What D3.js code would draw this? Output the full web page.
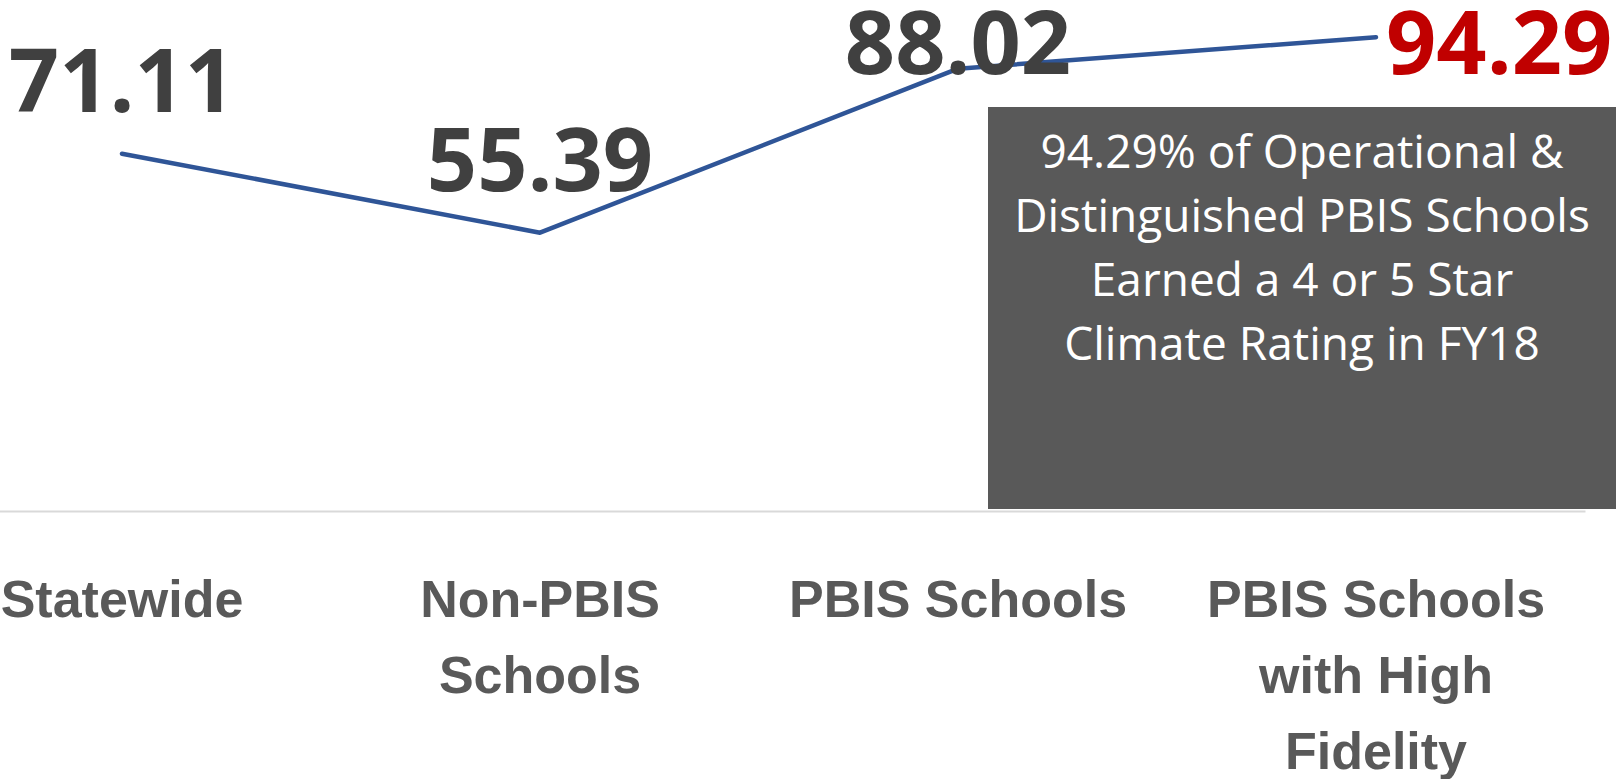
<!DOCTYPE html>
<html>
<head>
<meta charset="utf-8">
<script src="https://cdn.jsdelivr.net/npm/d3@7"></script>
<style>
  body { margin: 0; background: #fff; }
  svg { display: block; font-family: 'Open Sans', 'Noto Sans', sans-serif; }
</style>
</head>
<body>
<svg id="chart"></svg>
<script>
const categories = ['Statewide', 'Non-PBIS Schools', 'PBIS Schools', 'PBIS Schools with High Fidelity']
const categoryLines = [['Statewide'], ['Non-PBIS', 'Schools'], ['PBIS Schools'], ['PBIS Schools', 'with High', 'Fidelity']]
const ratings = [71.11, 55.39, 88.02, 94.29]
const yDomain = [0, 100]
const calloutLines = ['94.29% of Operational &', 'Distinguished PBIS Schools', 'Earned a 4 or 5 Star', 'Climate Rating in FY18']

const width = 1618
const height = 779

const svg = d3.select('#chart')
  .attr('width', width)
  .attr('height', height)

// the plot is wider than the picture, first category is cut on the left
const x = d3.scaleBand()
  .domain(categories)
  .range([-87, 1585])
const y = d3.scaleLinear()
  .domain(yDomain)
  .range([511, 8.5])
const cx = d => x(d) + x.bandwidth() / 2

// category axis
const xAxis = d3.axisBottom(x)
  .tickSize(0)
  .tickFormat('')
const axisG = svg.append('g')
  .attr('transform', `translate(0, ${y(0)})`)
  .call(xAxis)
axisG.select('.domain')
  .attr('stroke', '#d9d9d9')
  .attr('stroke-width', 2)

axisG.selectAll('.tick text').remove()
axisG.selectAll('.tick')
  .append('text')
  .attr('text-anchor', 'middle')
  .attr('fill', '#595959')
  .attr('font-size', 52)
  .attr('font-weight', 700)
  .each(function (d, i) {
    const t = d3.select(this)
    categoryLines[i].forEach((line, j) => {
      t.append('tspan')
        .attr('x', 0)
        .attr('y', 106 + j * 76)
        .text(line)
    })
  })

const points = categories.map((c, i) => [cx(c), y(ratings[i])])

svg.append('path')
  .datum(points)
  .attr('d', d3.line())
  .attr('fill', 'none')
  .attr('stroke', '#2f5597')
  .attr('stroke-width', 4.5)
  .attr('stroke-linecap', 'round')
  .attr('stroke-linejoin', 'round')

// data labels, kept inside the plot top
const last = ratings.length - 1
svg.append('g')
  .selectAll('text')
  .data(ratings)
  .join('text')
  .attr('x', (d, i) => i === last ? cx(categories[i]) + 10 : cx(categories[i]))
  .attr('y', (d, i) => Math.max(y(d) - 42, 74))
  .attr('text-anchor', (d, i) => i === last ? 'start' : 'middle')
  .attr('fill', (d, i) => i === last ? '#c00000' : '#404040')
  .attr('font-size', 88)
  .attr('font-weight', 700)
  .text(d => d3.format('.2f')(d))

// callout box
const box = { x0: 988, x1: 1616, y0: 107, y1: 509 }
svg.append('rect')
  .attr('x', box.x0)
  .attr('y', box.y0)
  .attr('width', box.x1 - box.x0)
  .attr('height', box.y1 - box.y0)
  .attr('fill', '#595959')

svg.append('g')
  .selectAll('text')
  .data(calloutLines)
  .join('text')
  .attr('x', (box.x0 + box.x1) / 2)
  .attr('y', (d, i) => 168 + i * 64)
  .attr('text-anchor', 'middle')
  .attr('fill', '#ffffff')
  .attr('font-size', 46)
  .text(d => d)
</script>
</body>
</html>
